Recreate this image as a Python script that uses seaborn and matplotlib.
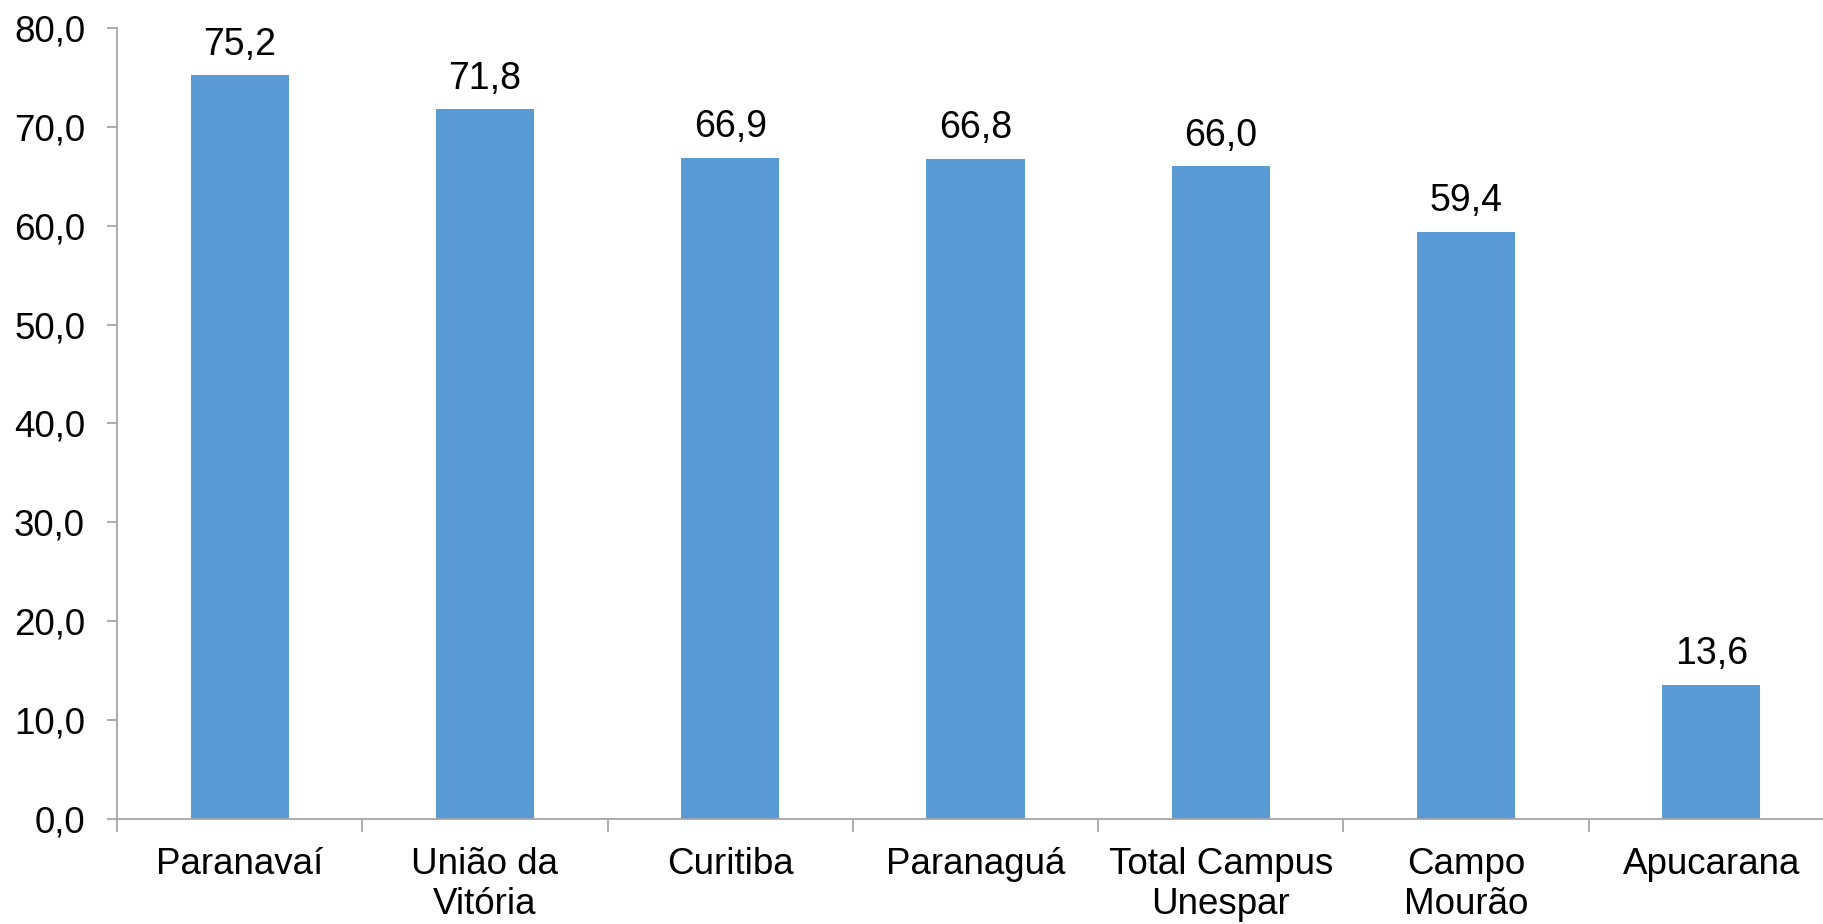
import pandas as pd
import seaborn as sns
import matplotlib.pyplot as plt

campi = ["Paranavaí", "União da\nVitória", "Curitiba", "Paranaguá",
         "Total Campus\nUnespar", "Campo\nMourão", "Apucarana"]
valores = [75.2, 71.8, 66.9, 66.8, 66.0, 59.4, 13.6]

BAR_COLOR = "#5B9BD5"
AXIS_COLOR = "#A6A6A6"
FS = 26.5

sns.set_style("white")
plt.rcParams['font.family'] = ['Liberation Sans', 'DejaVu Sans']
plt.rcParams['text.color'] = 'black'
plt.rcParams['xtick.labelcolor'] = 'black'
plt.rcParams['ytick.labelcolor'] = 'black'

df = pd.DataFrame({"campus": campi, "valor": valores})

fig = plt.figure(figsize=(18.23, 9.24), dpi=100)
# axes extends a little past the right edge, like the original
ax = fig.add_axes([117 / 1823, 105 / 924, 1717 / 1823, 791 / 924])

sns.barplot(data=df, x="campus", y="valor", color=BAR_COLOR, width=0.4,
            saturation=1, edgecolor="none", ax=ax)

ax.set_ylim(0, 80)
ax.set_xlim(-0.5, len(campi) - 0.5)
ax.set_yticks(range(0, 81, 10))
ax.set_yticklabels([f"{v:.1f}".replace(".", ",") for v in range(0, 81, 10)],
                   color="black")
ax.set_xlabel("")
ax.set_ylabel("")

# category separators as x ticks
ax.set_xticks([i - 0.5 for i in range(len(campi))], minor=False)
ax.set_xticklabels([])
ax.set_xticks(range(len(campi)), minor=True)
ax.set_xticklabels(campi, minor=True, fontsize=FS, linespacing=1.2,
                   color="black")
ax.tick_params(axis="x", which="major", direction="out", length=9,
               width=1.3, color=AXIS_COLOR, bottom=True)
ax.tick_params(axis="x", which="minor", length=0, pad=20)
ax.tick_params(axis="y", direction="out", length=7, width=1.3,
               color=AXIS_COLOR, labelsize=FS, pad=16, left=True)

for side in ["top", "right"]:
    ax.spines[side].set_visible(False)
for side in ["left", "bottom"]:
    ax.spines[side].set_color(AXIS_COLOR)
    ax.spines[side].set_linewidth(1.3)

ax.bar_label(ax.containers[0],
             labels=[f"{v:.1f}".replace(".", ",") for v in valores],
             fontsize=FS + 0.5, padding=9, color="black")

fig.savefig("out.png", dpi=100)
